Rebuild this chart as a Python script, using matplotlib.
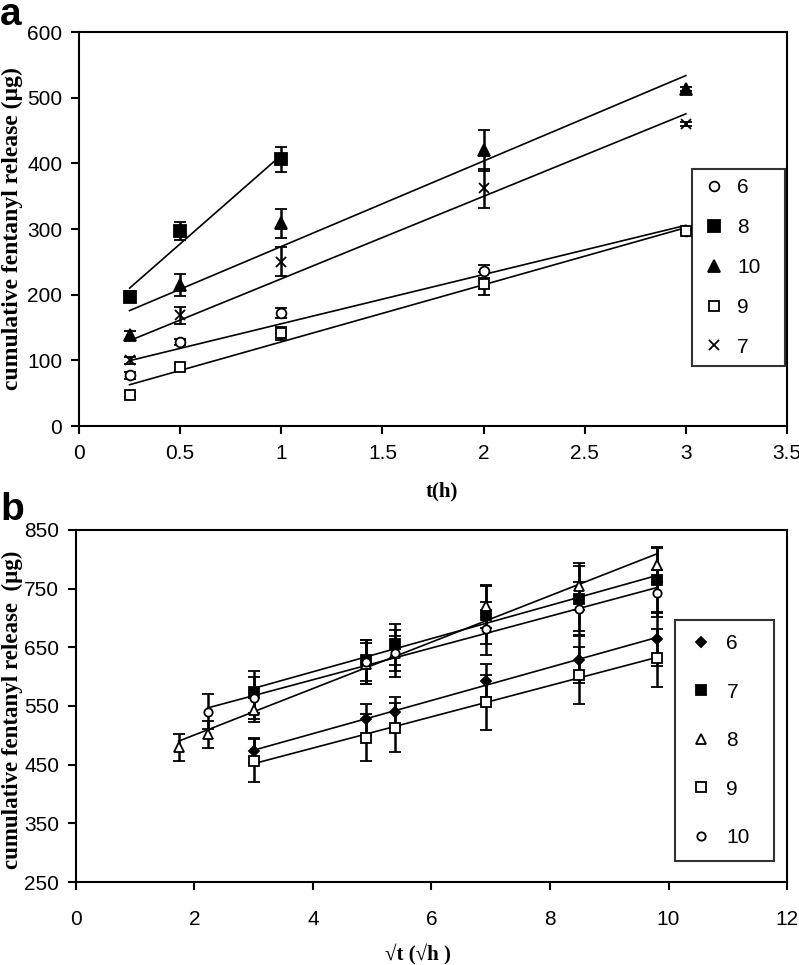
import numpy as np
import matplotlib
matplotlib.use("Agg")
import matplotlib.pyplot as plt
from matplotlib import font_manager
from matplotlib.lines import Line2D

# ---- panel a data: cumulative release vs t(h)
t_a = [0.25, 0.5, 1, 2, 3]
a_labels = ["6", "8", "10", "9", "7"]
a6 = [77, 128, 172, 236, 297]
a6_err = [5, 5, 8, 10, 3]
a8 = [197, 297, 406]
a8_err = [8, 14, 19]
a10 = [138, 215, 309, 420, 513]
a10_err = [7, 17, 22, 31, 3]
a9 = [48, 90, 141, 217, 297]
a9_err = [4, 5, 10, 17, 3]
a7 = [100, 169, 250, 362, 460]
a7_err = [5, 13, 22, 30, 3]

# ---- panel b data: cumulative release vs sqrt(t)
sqrt_t = [1.732, 2.236, 3.0, 4.899, 5.385, 6.928, 8.485, 9.798]
b_labels = ["6", "7", "8", "9", "10"]
b6 = [474, 527, 540, 593, 629, 664]
b6_err = [22, 27, 25, 28, 40, 45]
b7 = [574, 628, 655, 705, 733, 765]
b7_err = [36, 35, 35, 50, 55, 55]
b8 = [480, 502, 543, 622, 640, 720, 754, 791]
b8_err = [23, 23, 20, 35, 30, 37, 40, 30]
b9 = [457, 496, 513, 556, 602, 632]
b9_err = [37, 40, 42, 47, 48, 50]
b10 = [540, 563, 625, 640, 682, 716, 742]
b10_err = [30, 36, 38, 40, 45, 45, 40]

installed = {f.name for f in font_manager.fontManager.ttflist}
tick_font = "Liberation Sans"
narrow_font = "Liberation Sans Narrow" if "Liberation Sans Narrow" in installed else "Liberation Sans"
label_font = "Liberation Serif"

fig = plt.figure(figsize=(7.99, 9.65), dpi=100)
ax1 = fig.add_axes([0.0989, 0.5585, 0.8861, 0.4083])
ax2 = fig.add_axes([0.0951, 0.086, 0.8899, 0.3648])


def series(ax, x, y, err, marker, filled, size, label):
    fc = "black" if filled else "white"
    ax.errorbar(x, y, yerr=err, fmt=marker, color="black", mfc=fc, mec="black",
                ms=size, mew=1.3, ecolor="black", elinewidth=1.8, capsize=4,
                capthick=1.8, zorder=3)
    # linear trendline through the points
    k, b = np.polyfit(x, y, 1)
    xs = np.array([x[0], x[-1]])
    ax.plot(xs, k * xs + b, color="black", lw=1.2, zorder=2)
    return Line2D([], [], ls="none", marker=marker, color="black", mfc=fc,
                  mec="black", ms=size, mew=1.3, label=label)


# panel a
h = []
h.append(series(ax1, t_a, a6, a6_err, "o", False, 7, a_labels[0]))
h.append(series(ax1, t_a[:3], a8, a8_err, "s", True, 8, a_labels[1]))
h.append(series(ax1, t_a, a10, a10_err, "^", True, 8, a_labels[2]))
h.append(series(ax1, t_a, a9, a9_err, "s", False, 7, a_labels[3]))
h.append(series(ax1, t_a, a7, a7_err, "x", False, 7, a_labels[4]))

ax1.set_xlim(0, 3.5)
ax1.set_ylim(0, 600)
ax1.set_xticks(np.arange(0, 3.51, 0.5))
ax1.set_xticklabels(["0", "0.5", "1", "1.5", "2", "2.5", "3", "3.5"])
ax1.set_yticks(range(0, 601, 100))
leg1 = ax1.legend(handles=h, loc="lower left", bbox_to_anchor=(0.866, 0.152, 0.131, 0.5),
                  mode="expand", frameon=True, fancybox=False, edgecolor="black",
                  prop={"family": tick_font, "size": 15}, handlelength=1.2,
                  handletextpad=0.5, labelspacing=1.0, borderpad=0.45,
                  borderaxespad=0)
leg1.get_frame().set_linewidth(1.5)
ax1.set_xlabel("t(h)", fontfamily=label_font, fontweight="bold", fontsize=15)
ax1.xaxis.set_label_coords(0.513, -0.14)
ax1.set_ylabel("cumulative fentanyl release (µg)", fontfamily=label_font,
               fontweight="bold", fontsize=17)
ax1.yaxis.set_label_coords(-0.079, 0.5)

# panel b
h = []
h.append(series(ax2, sqrt_t[2:], b6, b6_err, "D", True, 5, b_labels[0]))
h.append(series(ax2, sqrt_t[2:], b7, b7_err, "s", True, 7, b_labels[1]))
h.append(series(ax2, sqrt_t, b8, b8_err, "^", False, 7, b_labels[2]))
h.append(series(ax2, sqrt_t[2:], b9, b9_err, "s", False, 7, b_labels[3]))
h.append(series(ax2, sqrt_t[1:], b10, b10_err, "o", False, 6, b_labels[4]))

ax2.set_xlim(0, 12)
ax2.set_ylim(250, 850)
ax2.set_xticks(range(0, 13, 2))
ax2.set_yticks(range(250, 851, 100))
leg2 = ax2.legend(handles=h, loc="lower left", bbox_to_anchor=(0.843, 0.06, 0.139, 0.5),
                  mode="expand", frameon=True, fancybox=False, edgecolor="black",
                  prop={"family": narrow_font, "size": 15}, handlelength=1.2,
                  handletextpad=0.6, labelspacing=1.42, borderpad=0.65,
                  borderaxespad=0)
leg2.get_frame().set_linewidth(1.5)
ax2.set_xlabel("√t (√h )", fontfamily=label_font, fontweight="bold", fontsize=15)
ax2.xaxis.set_label_coords(0.481, -0.175)
ax2.set_ylabel("cumulative fentanyl release  (µg)", fontfamily=label_font,
               fontweight="bold", fontsize=16.5)
ax2.yaxis.set_label_coords(-0.0745, 0.49)

for ax, xpad, fam in ((ax1, 7, tick_font), (ax2, 14, narrow_font)):
    for s in ax.spines.values():
        s.set_linewidth(1.5)
    ax.tick_params(axis="both", direction="out", length=6, width=1.5,
                   labelsize=15)
    ax.tick_params(axis="x", pad=xpad)
    ax.tick_params(axis="y", pad=6)
    for lab in ax.get_xticklabels() + ax.get_yticklabels():
        lab.set_fontfamily(fam)

fig.text(0.0, 0.974, "a", fontsize=28, fontweight="bold", family="Liberation Sans",
         va="baseline")
fig.text(0.0, 0.461, "b", fontsize=28, fontweight="bold", family="Liberation Sans",
         va="baseline")

fig.savefig("out.png", dpi=100)
